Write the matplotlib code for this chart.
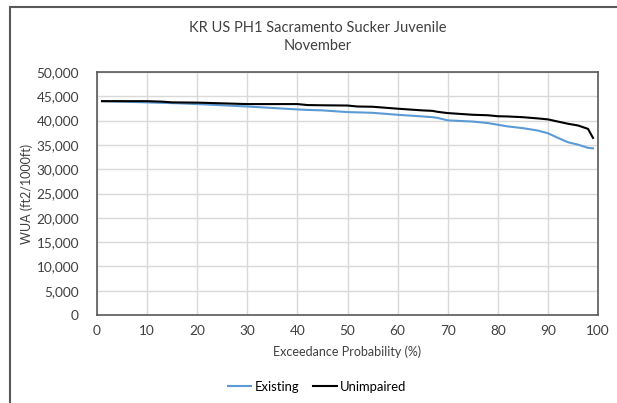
import matplotlib
matplotlib.use('Agg')
import matplotlib.pyplot as plt
from matplotlib.patches import Rectangle

plt.rcParams['font.family'] = ['Lato', 'DejaVu Sans']

# exceedance probability (%) and WUA values
exc_prob = [1, 5, 10, 13, 15, 20, 25, 30, 35, 40, 42, 45, 50, 52, 55, 60,
            65, 67, 68, 70, 75, 78, 80, 82, 85, 88, 90, 92, 94, 96, 98, 99]
existing = [44000, 43900, 43750, 43650, 43600, 43400, 43150, 42900, 42600, 42300, 42200, 42100,
            41750, 41700, 41600, 41200, 40850, 40700, 40550, 40050, 39800, 39500, 39150, 38800,
            38450, 37950, 37400, 36450, 35550, 35050, 34400, 34300]
unimpaired = [44000, 44000, 44000, 43900, 43750, 43700, 43550, 43400, 43400, 43400, 43200, 43150,
              43100, 42900, 42850, 42450, 42100, 42000, 41800, 41550, 41200, 41100, 40900, 40850,
              40700, 40450, 40250, 39800, 39350, 39000, 38300, 36450]

title = 'KR US PH1 Sacramento Sucker Juvenile\nNovember'
x_label = 'Exceedance Probability (%)'
y_label = 'WUA (ft2/1000ft)'

fig = plt.figure(figsize=(6.17, 4.03), dpi=100)
ax = fig.add_axes([97 / 617, 1 - 315 / 403, (598 - 97) / 617, (315 - 72) / 403])

ax.plot(exc_prob, existing, color='#5b9bd5', lw=1.5, label='Existing')
ax.plot(exc_prob, unimpaired, color='black', lw=1.5, label='Unimpaired')

ax.set_xlim(0, 100)
ax.set_ylim(0, 50000)
ax.set_xticks(range(0, 101, 10))
ax.set_yticks(range(0, 50001, 5000))
ax.yaxis.set_major_formatter(matplotlib.ticker.FuncFormatter(lambda v, p: f'{int(v):,}'))
ax.grid(True, color='#d9d9d9', lw=1)
ax.set_axisbelow(True)
for s in ax.spines.values():
    s.set_color('#595959')
    s.set_linewidth(1.2)
ax.tick_params(length=0, labelsize=9.8, colors='#404040')
ax.tick_params(axis='y', pad=13)
ax.tick_params(axis='x', pad=7)

ax.set_xlabel(x_label, fontsize=9, color='#404040', labelpad=6)
ax.set_ylabel(y_label, fontsize=9, color='#404040')
ax.yaxis.set_label_coords((33 - 97) / 501, 0.5)
fig.text(318 / 617, 1 - 37 / 403, title, ha='center', va='center',
         fontsize=10.5, color='#404040', linespacing=1.45)

fig.legend(loc='center', bbox_to_anchor=(317 / 617, 1 - 387 / 403), ncol=2,
           frameon=False, fontsize=9.4, handlelength=1.8, handletextpad=0.25, columnspacing=1.1)

# outer chart border
fig.patches.append(Rectangle((10 / 617, -0.1), 1.1, 1 - 7 / 403 + 0.1, transform=fig.transFigure,
                             fill=False, edgecolor='#595959', lw=1.5))

fig.savefig('out.png', dpi=100)
